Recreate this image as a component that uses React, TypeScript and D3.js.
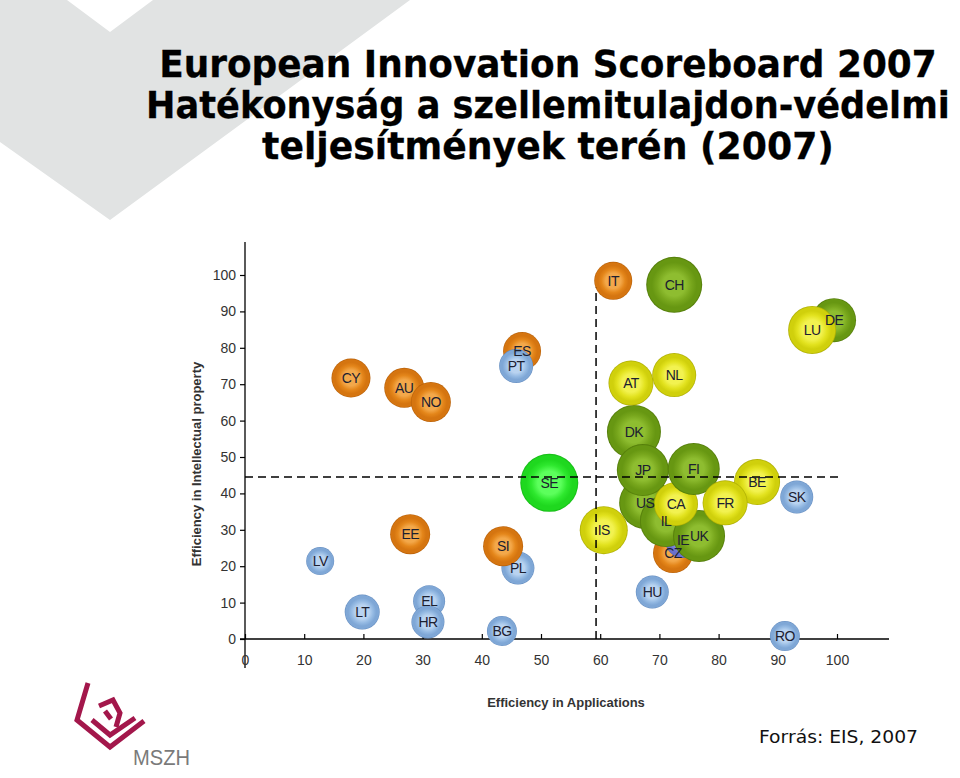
import React, { useEffect, useRef } from 'react';
import * as d3 from 'd3';

// ---- data (drawing order: back to front) ----
const countries = ['CY','AU','NO','EE','LV','LT','EL','HR','BG','PL','SI','ES','PT','SE','IT','CH','DE','LU','HU','RO','SK','CZ','IE','US','DK','JP','IL','UK','CA','BE','FI','FR','IS','AT','NL'];
const effApplications = [17.9,26.9,31.4,27.9,12.7,19.8,31.1,30.9,43.4,46.1,43.6,46.8,45.8,51.4,62.2,72.5,99.5,95.8,68.8,91.2,93.2,72.3,74.0,67.6,65.7,67.2,71.1,76.7,72.8,86.5,75.8,81.1,60.6,65.2,72.5];
const effIP = [71.7,69.0,65.1,28.8,21.4,7.4,10.4,4.7,2.2,19.5,25.5,79.1,75.0,42.9,98.4,97.3,87.6,84.9,12.9,0.8,39.0,23.6,27.2,37.4,56.9,46.4,32.4,28.3,37.1,43.1,46.7,37.4,29.9,70.3,72.5];
const bubbleSize = [19.5,20,20,20,14,17.5,16,16.5,15,16.5,20,19,17,29,19,28,22,24,16.5,15,16.5,20,18,26,27,26,26,26,22,23,26,22.5,24,22.5,22];
const group = ['o','o','o','o','b','b','b','b','b','b','o','o','b','s','o','g','g','y','b','b','b','o','p','g','g','g','g','g','y','y','g','y','y','y','y'];
const xTicks = [0,10,20,30,40,50,60,70,80,90,100];
const yTicks = [0,10,20,30,40,50,60,70,80,90,100];
const thresholdX = 59.3;
const thresholdY = 44.5;
const titleLines = ['European Innovation Scoreboard 2007','Hatékonyság a szellemitulajdon-védelmi','teljesítmények terén (2007)'];

const palettes: Record<string, string[]> = {
  o: ['#f3a84a','#e4861a','#d57510','#b55d06'],
  b: ['#b9d3f0','#95bae3','#7fa7d6','#6089bd'],
  y: ['#f2f250','#e2e21e','#d0d00c','#aaaa02'],
  g: ['#8ebd30','#77a61c','#679712','#4f7707'],
  s: ['#5cff5c','#2ee82e','#1fd81f','#14b814'],
  p: ['#9ea4f0','#7c82dc','#6a70cc','#5258b0'],
};

const titleLengths = [778, 804, 572];
const titleBaselines = [77, 118, 159];
const titleCenter = 548;

export default function App() {
  const xAxisRef = useRef<SVGGElement>(null);
  const yAxisRef = useRef<SVGGElement>(null);
  const titleRefs = useRef<(SVGTextElement | null)[]>([]);

  const x = d3.scaleLinear().domain([0, 100]).range([245, 837]);
  const y = d3.scaleLinear().domain([0, 100]).range([639, 275]);
  const r = d3.scaleLinear().domain([0, 30]).range([0, 30]);

  useEffect(() => {
    if (xAxisRef.current) {
      const g = d3.select(xAxisRef.current);
      g.call(d3.axisBottom(x).tickValues(xTicks).tickSize(-5).tickPadding(16).tickFormat(d3.format('d')) as any);
      g.select('.domain').remove();
      g.selectAll('line').attr('stroke', '#000').attr('stroke-width', 1.2);
      g.selectAll('text').attr('fill', '#333').attr('font-size', 14).attr('font-family', 'Liberation Sans, Arial, sans-serif');
    }
    if (yAxisRef.current) {
      const g = d3.select(yAxisRef.current);
      g.call(d3.axisLeft(y).tickValues(yTicks).tickSize(5).tickPadding(4).tickFormat(d3.format('d')) as any);
      g.select('.domain').remove();
      g.selectAll('line').attr('stroke', '#000').attr('stroke-width', 1.2);
      g.selectAll('text').attr('fill', '#333').attr('font-size', 14).attr('font-family', 'Liberation Sans, Arial, sans-serif');
    }
    titleRefs.current.forEach((el, i) => {
      if (!el) return;
      const w = el.getComputedTextLength();
      if (w > 0) {
        const s = titleLengths[i] / w;
        el.setAttribute('transform', `translate(${titleCenter},0) scale(${s},1) translate(${-titleCenter},0)`);
      }
    });
  }, []);

  return (
    <svg width={960} height={778} style={{ position: 'absolute', left: 0, top: 0, background: '#fff' }}>
      <defs>
        {Object.entries(palettes).map(([k, c]) => (
          <radialGradient key={k} id={`grad-${k}`} cx="50%" cy="50%" r="50%">
            <stop offset="0%" stopColor={c[0]} />
            <stop offset="40%" stopColor={c[0]} />
            <stop offset="62%" stopColor={c[1]} />
            <stop offset="80%" stopColor={c[2]} />
            <stop offset="94%" stopColor={c[2]} />
            <stop offset="100%" stopColor={c[3]} />
          </radialGradient>
        ))}
      </defs>
      <rect x={0} y={0} width={960} height={778} fill="#fff" />
      {/* background chevron */}
      <polygon points="0,0 67,0 110,32 153,0 410,0 110,220 0,142" fill="#e1e3e3" />
      {/* title */}
      {titleLines.map((t, i) => (
        <text key={i} ref={(el) => { titleRefs.current[i] = el; }} x={titleCenter} y={titleBaselines[i]} textAnchor="middle"
          fontFamily="DejaVu Sans, Verdana, sans-serif" fontWeight="bold" fontSize={37} fill="#000" stroke="#000" strokeWidth={0.3}>{t}</text>
      ))}

      {/* axes */}
      <line x1={245} x2={245} y1={242} y2={668} stroke="#000" strokeWidth={1.3} />
      <line x1={240} x2={889} y1={639} y2={639} stroke="#000" strokeWidth={1.3} />
      <g ref={xAxisRef} transform="translate(0,639)" />
      <g ref={yAxisRef} transform="translate(245,0)" />

      {/* bubbles */}
      {countries.map((c, i) => (
        <circle key={c} cx={x(effApplications[i])} cy={y(effIP[i])} r={r(bubbleSize[i])} fill={`url(#grad-${group[i]})`} />
      ))}

      {/* threshold lines */}
      <line x1={x(0)} x2={x(100.5)} y1={y(thresholdY)} y2={y(thresholdY)} stroke="#000" strokeWidth={1.5} strokeDasharray="8,5" />
      <line x1={x(thresholdX)} x2={x(thresholdX)} y1={y(0)} y2={y(96.5)} stroke="#000" strokeWidth={1.5} strokeDasharray="8,5" />

      {/* labels */}
      {countries.map((c, i) => (
        <text key={c} x={x(effApplications[i])} y={y(effIP[i])} dy="0.35em" textAnchor="middle"
          fontFamily="Liberation Sans, Arial, sans-serif" fontSize={14} letterSpacing={-0.6} fill="#1c2030">{c}</text>
      ))}

      {/* axis titles */}
      <text x={566} y={707} textAnchor="middle" fontFamily="Liberation Sans, Arial, sans-serif" fontWeight="bold" fontSize={13} fill="#333">Efficiency in Applications</text>
      <text transform="translate(201,464) rotate(-90)" textAnchor="middle" fontFamily="Liberation Sans, Arial, sans-serif" fontWeight="bold" fontSize={13} fill="#333">Efficiency in Intellectual property</text>

      {/* logo */}
      <g fill="none" stroke="#a3174b" strokeWidth={5} strokeLinejoin="miter" strokeLinecap="butt">
        <polyline points="88,683 77,720 110,747 144,721" />
        <polyline points="92,720 110,735 135,718" />
        <polyline points="99,706 113,700 120,713 116,727" />
        <polyline points="105,711 111,719" />
      </g>
      <text x={133} y={765} fontFamily="Liberation Sans, Arial, sans-serif" fontSize={22} fill="#7a7a7a" textLength={57} lengthAdjust="spacingAndGlyphs">MSZH</text>

      {/* source */}
      <text x={759} y={743} fontFamily="DejaVu Sans, Verdana, sans-serif" fontSize={17} fill="#111" textLength={159} lengthAdjust="spacingAndGlyphs">Forrás: EIS, 2007</text>
    </svg>
  );
}
